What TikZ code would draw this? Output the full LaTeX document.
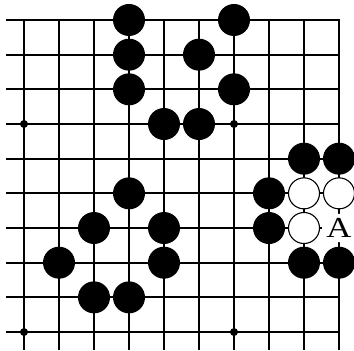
\documentclass[tikz,border=0pt]{standalone}
\usepackage{fontspec}
\setmainfont{Liberation Serif}
\begin{document}
\begin{tikzpicture}[x=35pt,y=-34.67pt,
  gridline/.style={line width=1.8pt,line cap=rect},
  edgeline/.style={line width=2.8pt,line cap=rect},
  bstone/.style={circle,fill=black,inner sep=0pt,minimum size=32pt},
  wstone/.style={circle,fill=white,draw=black,line width=1.1pt,inner sep=0pt,minimum size=31pt},
  letter/.style={circle,fill=white,inner sep=0pt,minimum size=28pt,font=\fontsize{29pt}{29pt}\selectfont},
  star/.style={circle,fill=black,inner sep=0pt,minimum size=8pt}]
\useasboundingbox[fill=white] (-0.6857,-0.5769) rectangle (9.4286,9.547);
% grid
\foreach \r in {1,...,9} \draw[gridline] (-0.486,\r) -- (9,\r);
\foreach \c in {0,...,8} \draw[gridline] (\c,0) -- (\c,9.49);
\draw[edgeline] (-0.486,0) -- (9,0) -- (9,9.49);
% star points
\node[star] (s1) at (0,3) {};
\node[star] (s2) at (6,3) {};
\node[star] (s3) at (0,9) {};
\node[star] (s4) at (6,9) {};
% letter
\node[letter,xscale=1.2,transform shape] (A) at (9,6) {A};
% black stones
\foreach \c/\r [count=\i] in {3/0,6/0,3/1,5/1,3/2,6/2,4/3,5/3,8/4,9/4,3/5,7/5,2/6,4/6,7/6,1/7,4/7,8/7,9/7,2/8,3/8}
  \node[bstone] (b\i) at (\c,\r) {};
% white stones
\node[wstone] (w1) at (8,5) {};
\node[wstone] (w2) at (9,5) {};
\node[wstone] (w3) at (8,6) {};
\end{tikzpicture}
\end{document}
